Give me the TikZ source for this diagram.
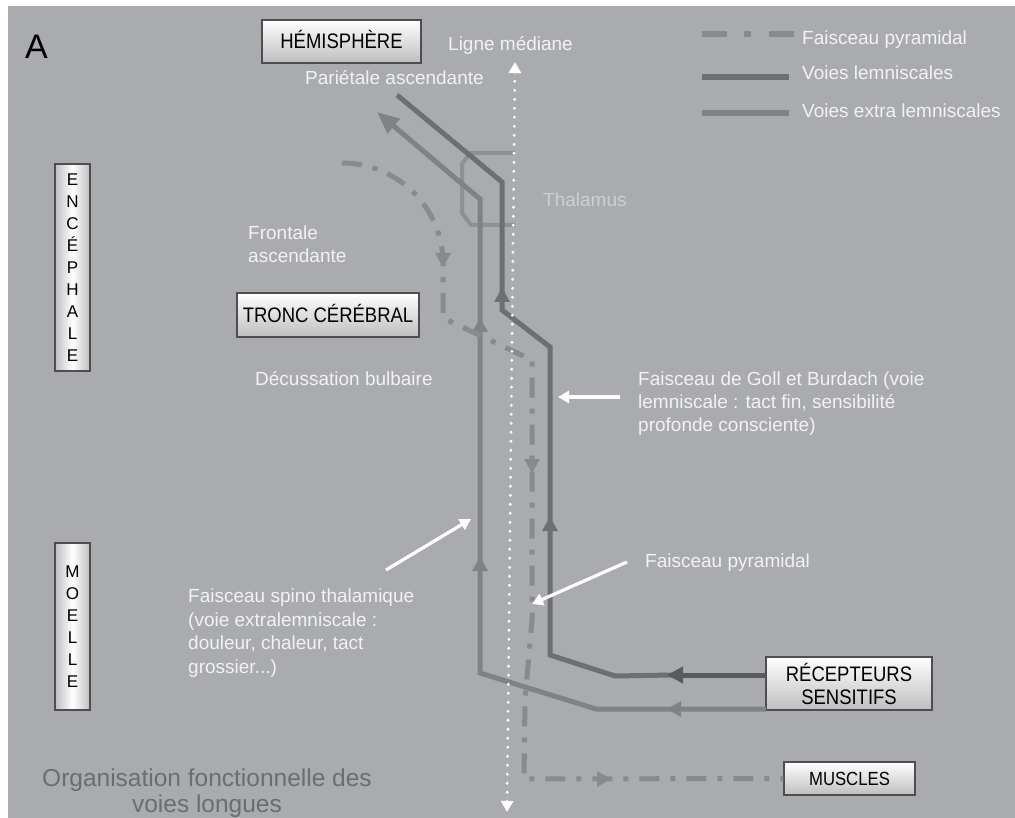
\documentclass[tikz,border=0pt]{standalone}
\usepackage{fontspec}
\setmainfont{Liberation Sans}
\usetikzlibrary{arrows.meta}
\definecolor{bg}{HTML}{A9ABAF}
\definecolor{lem}{HTML}{6D6F73}
\definecolor{ext}{HTML}{808286}
\definecolor{pyr}{HTML}{888A8E}
\definecolor{thal}{HTML}{8E9094}
\definecolor{recdark}{HTML}{5A5B5F}
\definecolor{txtlight}{HTML}{F2F2F2}
\definecolor{thaltext}{HTML}{CDCFD2}
\definecolor{orgtext}{HTML}{6B6D71}
\definecolor{boxgray}{HTML}{BEBEC0}
\definecolor{boxedge}{HTML}{4E4E50}
\newcommand\cnd[1]{\scalebox{0.88}[1]{#1}}
\begin{document}
\begin{tikzpicture}[x=1pt,y=-1pt,
  lbl/.style={text=txtlight, inner sep=0pt, font=\fontsize{19}{23}\selectfont},
  hbox/.style={draw=boxedge, line width=1.4pt, top color=white, bottom color=boxgray, inner sep=0pt, font=\fontsize{21}{23}\selectfont, text=black},
  vbox/.style={draw=boxedge, line width=1.4pt, left color=boxgray, right color=boxgray, middle color=white, inner sep=0pt, font=\fontsize{17}{22}\selectfont, align=center, minimum width=35pt, text=black},
  lempath/.style={draw=lem, line width=5pt},
  extpath/.style={draw=ext, line width=5pt},
  pyrpath/.style={draw=pyr, line width=5pt, dash pattern=on 20pt off 11pt on 5pt off 11pt},
  whitearrow/.style={draw=white, line width=3.2pt, -{Triangle[length=11pt,width=12pt]}},
  tipmark/.pic={\fill (0,0) -- (-14,-8) -- (-14,8) -- cycle;}
]
\fill[white] (0,0) rectangle (1015,818);
\fill[bg] (8,6) rectangle (1015,818);
\useasboundingbox (0,0) rectangle (1015,818);

% boxes
\node[font=\fontsize{34}{34}\selectfont, anchor=base west, inner sep=0pt] (lettre) at (25,59) {A};
\node[hbox, minimum width=159pt, minimum height=43pt, text height=15pt, text depth=0pt] (hemi) at (341.5,41.5) {\cnd{HÉMISPHÈRE}};
\node[hbox, minimum width=182pt, minimum height=44pt, text height=15pt, text depth=0pt] (tronc) at (328,315) {\cnd{TRONC CÉRÉBRAL}};
\node[hbox, minimum width=131pt, minimum height=33pt, text height=13pt, text depth=0pt, font=\fontsize{19}{23}\selectfont] (mus) at (849.5,778.5) {\cnd{MUSCLES}};
\node[hbox, minimum width=166pt, minimum height=53pt, align=center] (rec) at (849,683.5) {\cnd{RÉCEPTEURS}\\\cnd{SENSITIFS}};
\node[vbox, minimum height=207pt] (enc) at (72.5,267.5) {E\\N\\C\\É\\P\\H\\A\\L\\E};
\node[vbox, minimum height=167pt] (moe) at (72.5,626.5) {M\\O\\E\\L\\L\\E};

% labels
\node[lbl, anchor=base west] (ligne) at (448,51) {Ligne médiane};
\node[lbl, anchor=base west] (pariet) at (305,85) {Pariétale ascendante};
\node[lbl, anchor=north west, align=left] (front) at (248,226) {Frontale\\ascendante};
\node[lbl, anchor=base west] (decus) at (255,385) {Décussation bulbaire};
\node[lbl, anchor=base west, text=thaltext] (thaltxt) at (543,207) {Thalamus};
\node[lbl, anchor=north west, align=left] (goll) at (638,372) {Faisceau de Goll et Burdach (voie\\lemniscale : tact fin, sensibilité\\profonde consciente)};
\node[lbl, anchor=base west] (pyrlbl) at (645,567) {Faisceau pyramidal};
\node[lbl, anchor=north west, align=left, font=\fontsize{19}{23.5}\selectfont] (spino) at (188,589) {Faisceau spino thalamique\\(voie extralemniscale :\\douleur, chaleur, tact\\grossier...)};
\node[font=\fontsize{24.5}{26}\selectfont, text=orgtext, align=center, anchor=north, inner sep=0pt] (org) at (207,769) {Organisation fonctionnelle des\\voies longues};

% legend
\node[lbl, anchor=base west] (lg1) at (802,45) {Faisceau pyramidal};
\node[lbl, anchor=base west] (lg2) at (802,80) {Voies lemniscales};
\node[lbl, anchor=base west] (lg3) at (802,118) {Voies extra lemniscales};
\draw[pyr, line width=6pt, dash pattern=on 25pt off 17pt on 7pt off 18pt on 25pt off 20pt] (702,34) -- (794,34);
\draw[lem, line width=6pt] (702,77) -- (789,77);
\draw[ext, line width=6pt] (702,113) -- (789,113);

% thalamus
\draw[thal, line width=4pt, line join=round] (515,153) -- (470,153) -- (462,164) -- (462,213) -- (471,225) -- (515,225);

% extra lemniscal pathway
\coordinate (recBot) at (766,709);
\coordinate (recTop) at (766,675);
\draw[extpath, -{Triangle[length=22pt,width=18pt]}] (recBot) -- (596,709) -- (480,673) -- (480,199) -- (377,112);
\path (667,709) pic[ext, rotate=180] {tipmark};
\path (480,318) pic[ext, rotate=90] {tipmark};
\path (480,557) pic[ext, rotate=90] {tipmark};

% lemniscal pathway
\draw[lempath] (672,675) -- (615,676) -- (550,655) -- (550,347) -- (502,310) -- (502,182) -- (397,95);
\draw[recdark, line width=5pt, -{Triangle[length=16pt,width=16pt]}] (recTop) -- (667,675);
\path (502,288) pic[lem, rotate=90] {tipmark};
\path (550,517) pic[lem, rotate=90] {tipmark};

% pyramidal pathway
\draw[pyrpath] (342,163) .. controls (398,163) and (443,208) .. (443,263) -- (443,318) -- (532,360) -- (532,620) -- (525,700) -- (524,779) -- (mus.west);
\path (443,267) pic[pyr, rotate=-90] {tipmark};
\path (532,473) pic[pyr, rotate=-90] {tipmark};
\path (611,779) pic[pyr] {tipmark};

% midline
\draw[white, line width=3.2pt, dash pattern=on 0pt off 9pt, line cap=round, {Triangle[length=11pt,width=12pt]}-{Triangle[length=11pt,width=12pt]}] (515,62) -- (507,812);

% white pointer arrows
\coordinate (gollTail) at (620,397);
\coordinate (gollTip) at (558,397);
\coordinate (spTail) at (386,570);
\coordinate (spTip) at (471,519);
\coordinate (pyTail) at (627,562);
\coordinate (pyTip) at (532,604);
\draw[whitearrow] (gollTail) -- (gollTip);
\draw[whitearrow] (spTail) -- (spTip);
\draw[whitearrow] (pyTail) -- (pyTip);
\end{tikzpicture}
\end{document}
